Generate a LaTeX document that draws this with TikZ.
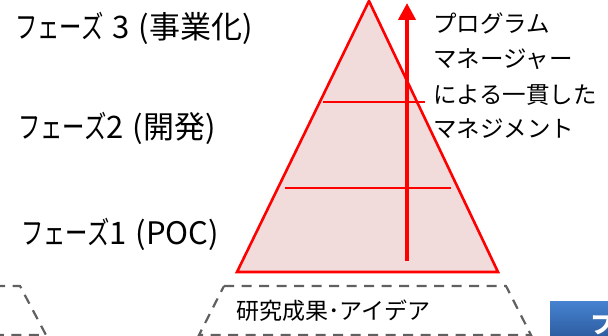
\documentclass[tikz,border=0pt]{standalone}
\usepackage{fontspec}
\setmainfont{Noto Sans CJK JP}
\newfontfamily\kana[FakeStretch=0.72]{Noto Sans CJK JP}
\usetikzlibrary{arrows.meta}
\definecolor{pyrfill}{HTML}{F2DCDB}
\definecolor{pyrred}{HTML}{FF0000}
\definecolor{dashgray}{HTML}{606060}
\definecolor{bluetop}{HTML}{4581CF}
\definecolor{bluebot}{HTML}{2B5A9C}
\tikzset{
  phaselabel/.style={anchor=base west, inner sep=0pt, font=\fontsize{31}{36}\selectfont},
  pmtext/.style={anchor=base west, inner sep=0pt, font=\fontsize{23.5}{27}\selectfont},
  redline/.style={draw=pyrred, line width=2.4pt},
  dashbox/.style={draw=dashgray, line width=2.2pt, dash pattern=on 10pt off 7.5pt},
}
\newcommand{\gp}{\hspace{9pt}}
\begin{document}
\begin{tikzpicture}[x=1pt,y=-1pt]
\useasboundingbox (0,0) rectangle (608,336);
% pyramid
\coordinate (apex) at (369,1);
\coordinate (bl) at (237,272);
\coordinate (br) at (498,272);
\filldraw[fill=pyrfill, draw=pyrred, line width=2.6pt, line join=miter] (apex) -- (br) -- (bl) -- cycle;
\coordinate (u1) at (323,102); \coordinate (u2) at (425,102);
\coordinate (l1) at (285,188); \coordinate (l2) at (451,188);
\draw[redline] (u1) -- (u2);
\draw[redline] (l1) -- (l2);
% arrow
\coordinate (arB) at (407,261);
\coordinate (arT) at (407,3);
\draw[pyrred, line width=4pt, -{Triangle[length=17pt,width=17pt]}] (arB) -- (arT);
% phase labels
\node[phaselabel] (p3) at (15,39) {{\kana フェーズ}\gp 3\gp(事業化)};
\node[phaselabel] (p2) at (18,139) {{\kana フェーズ}2\gp(開発)};
\node[phaselabel] (p1) at (21,245) {{\kana フェーズ}1\gp(POC)};
% program manager text
\node[pmtext] (t1) at (433,33) {プログラム};
\node[pmtext] (t2) at (433,68) {マネージャー};
\node[pmtext] (t3) at (433,104) {による一貫した};
\node[pmtext] (t4) at (433,138) {マネジメント};
% dashed trapezoids
\draw[dashbox] (224,286) -- (506,286) -- (531,335) -- (199,335) -- cycle;
\node[pmtext, font=\fontsize{23}{26}\selectfont] (base) at (236,320) {研究成果･アイデア};
\draw[dashbox] (-40,286) -- (20,286) -- (46,335) -- (-40,335);
% blue box
\shade[top color=bluetop, bottom color=bluebot] (550,302) rectangle (612,340);
\node[anchor=north west, inner sep=0pt, text=white, font=\fontsize{24}{28}\selectfont\bfseries] (bl2) at (590,315) {フ};
\end{tikzpicture}
\end{document}
